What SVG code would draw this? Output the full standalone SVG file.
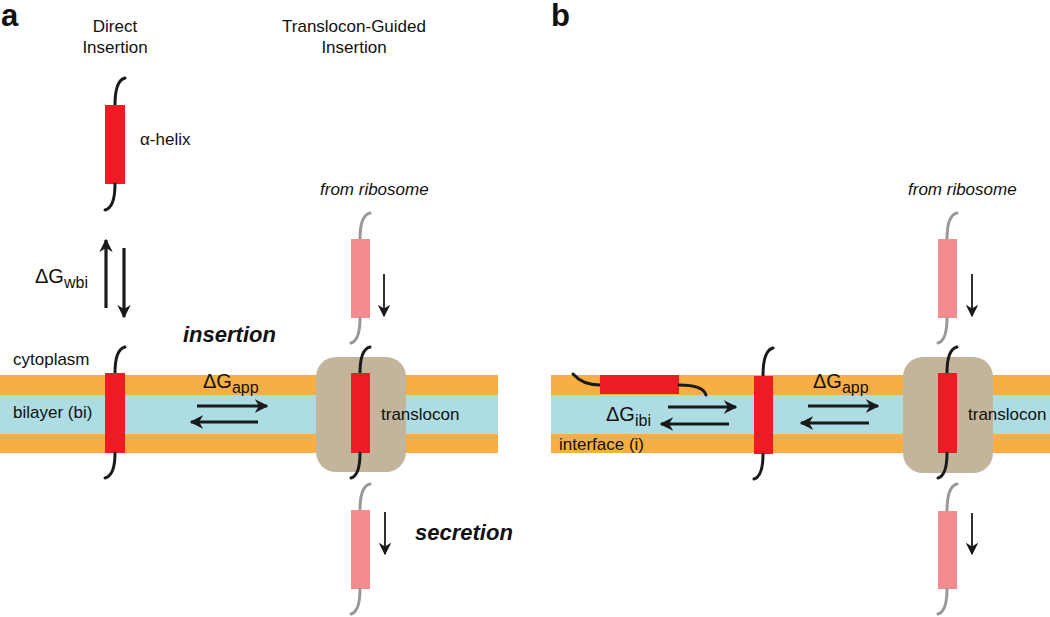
<svg xmlns="http://www.w3.org/2000/svg" width="1050" height="617" viewBox="0 0 1050 617">
<style>
text{font-family:"Liberation Sans",Arial,sans-serif;fill:#111}
.t{font-size:17px}
.lbl{font-size:31px;font-weight:bold}
.bi{font-size:22px;font-weight:bold;font-style:italic}
.it{font-style:italic;font-size:17px}
.dg{font-size:20px}
.sub{font-size:16px}
.or{fill:#F8AE42}
.bl{fill:#ADDDE3}
.red{fill:#ED1C24}
.pink{fill:#F48B91}
.tr{fill:#C3B59B}
.tail{fill:none;stroke:#1a1a1a;stroke-width:3;stroke-linecap:round}
.gtail{fill:none;stroke:#999;stroke-width:3;stroke-linecap:round}
.arr{stroke:#1a1a1a;stroke-width:3.2;fill:none}
.arrT{stroke:#1a1a1a;stroke-width:1.8;fill:none}
</style>
<defs>
<marker id="ah" viewBox="0 0 10 10" refX="9" refY="5" markerWidth="4.2" markerHeight="4.2" orient="auto" markerUnits="strokeWidth"><path d="M0,0 L10,5 L0,10 L3,5 Z" fill="#1a1a1a"/></marker>
<marker id="ahT" viewBox="0 0 10 10" refX="9" refY="5" markerWidth="7" markerHeight="7" orient="auto" markerUnits="strokeWidth"><path d="M0,0 L10,5 L0,10 L3,5 Z" fill="#1a1a1a"/></marker>
</defs>

<g id="membrane-a">
<rect class="or" x="0" y="375" width="498" height="20"/>
<rect class="bl" x="0" y="395" width="498" height="39"/>
<rect class="or" x="0" y="434" width="498" height="19"/>
</g>
<g id="membrane-b">
<rect class="or" x="551" y="375" width="499" height="20"/>
<rect class="bl" x="551" y="395" width="499" height="39"/>
<rect class="or" x="551" y="434" width="499" height="19"/>
</g>

<g id="labels">
<text class="lbl" x="1" y="26">a</text>
<text class="lbl" x="551" y="26">b</text>
<text class="t" x="115" y="32" text-anchor="middle">Direct</text>
<text class="t" x="115" y="53" text-anchor="middle">Insertion</text>
<text class="t" x="354" y="32" text-anchor="middle">Translocon-Guided</text>
<text class="t" x="354" y="53" text-anchor="middle">Insertion</text>
<text class="t" x="13" y="365">cytoplasm</text>
<text class="t" x="13" y="418">bilayer (bi)</text>
<text class="t" x="559" y="450">interface (i)</text>
<text class="bi" x="183" y="342">insertion</text>
<text class="bi" x="415" y="540">secretion</text>
<text class="it" x="320" y="195">from ribosome</text>
<text class="it" x="908" y="195">from ribosome</text>
<text class="dg" x="35" y="283">ΔG<tspan class="sub" dy="5">wbi</tspan></text>
<text class="dg" x="203" y="388">ΔG<tspan class="sub" dy="5">app</tspan></text>
<text class="dg" x="813" y="388">ΔG<tspan class="sub" dy="5">app</tspan></text>
<text class="dg" x="606" y="421">ΔG<tspan class="sub" dy="5">ibi</tspan></text>
</g>

<g id="helix-free">
<path class="tail" d="M125,78 C117,80 115,92 115,105"/>
<rect class="red" x="105" y="105" width="20" height="79"/>
<path class="tail" d="M115,184 C115,197 113,208 105,210"/>
<text class="t" x="140" y="145">α-helix</text>
</g>

<g id="helix-bilayer-a">
<path class="tail" d="M125,347 C117,349 115,361 115,373"/>
<rect class="red" x="105" y="373" width="20" height="80"/>
<path class="tail" d="M115,453 C115,466 113,476 105,478"/>
</g>

<g id="translocon-a">
<rect class="tr" x="316" y="357" width="90" height="115" rx="20"/>
<path class="tail" d="M370,347 C362,349 360,361 360,373"/>
<rect class="red" x="351" y="373" width="19" height="80"/>
<path class="tail" d="M360,453 C360,466 358,476 351,478"/>
<text class="t" x="381" y="420">translocon</text>
</g>

<g id="nascent-a-top">
<path class="gtail" d="M370,213 C362,215 360,227 360,239"/>
<rect class="pink" x="351" y="239" width="19" height="79"/>
<path class="gtail" d="M360,318 C360,331 358,341 351,343"/>
</g>
<g id="nascent-a-bottom">
<path class="gtail" d="M370,484 C362,486 360,498 360,510"/>
<rect class="pink" x="351" y="510" width="19" height="79"/>
<path class="gtail" d="M360,589 C360,602 358,612 351,614"/>
</g>

<g id="helix-interface-b">
<path class="tail" d="M573,374 C580,382 590,385 600,385"/>
<rect class="red" x="600" y="375" width="79" height="19"/>
<path class="tail" d="M679,385 C695,385 704,388 706,395"/>
</g>

<g id="helix-bilayer-b">
<path class="tail" d="M773,348 C765,350 763,362 763,376"/>
<rect class="red" x="754" y="376" width="19" height="78"/>
<path class="tail" d="M763,454 C763,467 761,477 754,479"/>
</g>

<g id="translocon-b">
<rect class="tr" x="903" y="357" width="90" height="116" rx="20"/>
<path class="tail" d="M957,347 C949,349 947,361 947,373"/>
<rect class="red" x="938" y="373" width="19" height="80"/>
<path class="tail" d="M947,453 C947,466 945,476 938,478"/>
<text class="t" x="968" y="420">translocon</text>
</g>

<g id="nascent-b-top">
<path class="gtail" d="M957,213 C949,215 947,227 947,239"/>
<rect class="pink" x="938" y="239" width="19" height="79"/>
<path class="gtail" d="M947,318 C947,331 945,341 938,343"/>
</g>
<g id="nascent-b-bottom">
<path class="gtail" d="M957,484 C949,486 947,498 947,511"/>
<rect class="pink" x="938" y="511" width="19" height="78"/>
<path class="gtail" d="M947,589 C947,602 945,612 938,614"/>
</g>

<g id="connectors">
<line class="arr" x1="106" y1="308" x2="106" y2="240" marker-end="url(#ah)"/>
<line class="arr" x1="124" y1="248" x2="124" y2="317" marker-end="url(#ah)"/>
<line class="arr" x1="197" y1="406" x2="267" y2="406" marker-end="url(#ah)"/>
<line class="arr" x1="258" y1="422" x2="191" y2="422" marker-end="url(#ah)"/>
<line class="arr" x1="808" y1="406" x2="878" y2="406" marker-end="url(#ah)"/>
<line class="arr" x1="869" y1="423" x2="801" y2="423" marker-end="url(#ah)"/>
<line class="arr" x1="668" y1="407" x2="736" y2="407" marker-end="url(#ah)"/>
<line class="arr" x1="729" y1="424" x2="661" y2="424" marker-end="url(#ah)"/>
<line class="arrT" x1="384" y1="274" x2="384" y2="316" marker-end="url(#ahT)"/>
<line class="arrT" x1="385" y1="512" x2="385" y2="554" marker-end="url(#ahT)"/>
<line class="arrT" x1="972" y1="274" x2="972" y2="316" marker-end="url(#ahT)"/>
<line class="arrT" x1="972" y1="513" x2="972" y2="554" marker-end="url(#ahT)"/>
</g>
</svg>
